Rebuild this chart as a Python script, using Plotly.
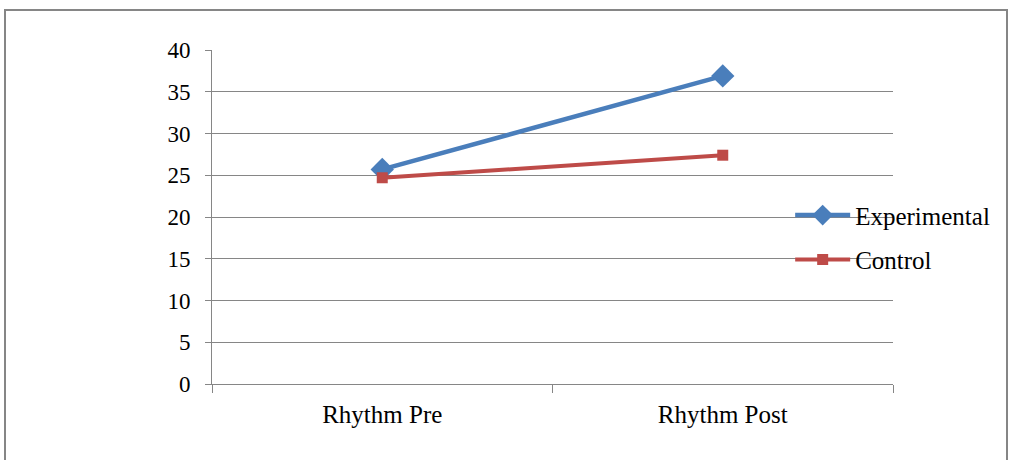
import plotly.graph_objects as go

categories = ["Rhythm Pre", "Rhythm Post"]
experimental = [25.7, 36.9]
control = [24.7, 27.4]
y_ticks = [0, 5, 10, 15, 20, 25, 30, 35, 40]

fig = go.Figure()
fig.add_trace(go.Scatter(
    x=categories, y=experimental, name="Experimental", mode="lines+markers",
    legendgroup="a",
    line=dict(color="#4A7EBB", width=4.5),
    marker=dict(symbol="diamond", size=18, color="#4A7EBB"),
))
fig.add_trace(go.Scatter(
    x=categories, y=control, name="Control", mode="lines+markers",
    legendgroup="b",
    line=dict(color="#BE4B48", width=4),
    marker=dict(symbol="square", size=11, color="#BE4B48"),
))

family = "Times New Roman, Tinos, Liberation Serif, serif"
font = dict(family=family, size=25, color="#000000")
yfont = dict(family=family, size=23, color="#000000")

fig.update_layout(
    width=1011, height=460,
    margin=dict(l=212, r=118, t=50, b=76),
    paper_bgcolor="white", plot_bgcolor="white",
    font=font,
    showlegend=True,
    legend=dict(x=0.849, y=0.439, xanchor="left", yanchor="middle",
                bgcolor="rgba(0,0,0,0)", font=font, itemwidth=55,
                tracegroupgap=9),
    xaxis=dict(type="category", showline=True, linecolor="#868686", linewidth=1,
               ticks="outside", ticklen=8, tickcolor="#868686", tickson="boundaries",
               showgrid=False, tickfont=font, range=[-0.5, 1.5],
               ticklabelstandoff=8),
    yaxis=dict(range=[0, 40], tickvals=y_ticks, showline=True, linecolor="#868686",
               linewidth=1, ticks="outside", ticklen=6, tickcolor="#868686",
               showgrid=True, gridcolor="#868686", gridwidth=1, zeroline=False,
               tickfont=yfont, ticklabelstandoff=10),
)
fig.add_shape(type="rect", xref="paper", yref="paper",
              x0=-207/681, x1=(1007-212)/681, y0=-80/334, y1=(384-10)/334,
              line=dict(color="#868686", width=2), fillcolor="rgba(0,0,0,0)", layer="below")
fig.write_html("out.html", config={"displayModeBar": False},
               post_script="document.body.style.margin='0px';")
